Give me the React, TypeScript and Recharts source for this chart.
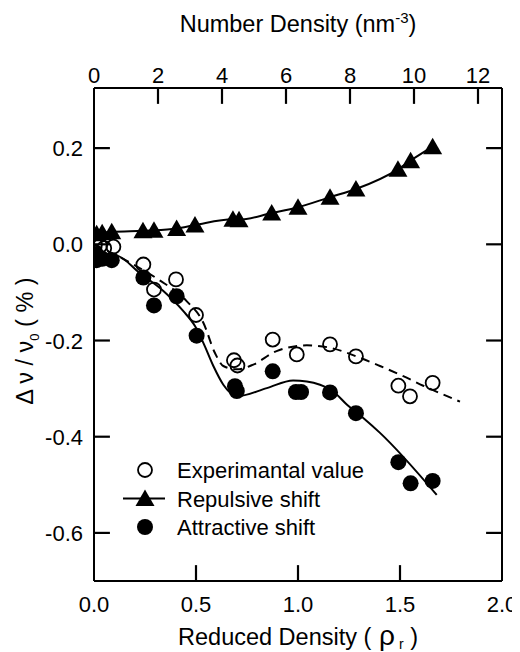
import { ComposedChart, XAxis, YAxis, Scatter, Line, ReferenceLine } from 'recharts'

const FONT = '"Liberation Sans", Arial, Helvetica, sans-serif'

// axis ticks
const reducedTicks = [0, 0.5, 1, 1.5, 2]
const numberTicks = [0, 2, 4, 6, 8, 10, 12]
const shiftTicks = [-0.6, -0.4, -0.2, 0, 0.2]

// Experimantal value (open circles)
const experimental = [
  { x: 0.005, y: 0.0 },
  { x: 0.03, y: -0.003 },
  { x: 0.05, y: -0.008 },
  { x: 0.095, y: -0.005 },
  { x: 0.242, y: -0.042 },
  { x: 0.294, y: -0.094 },
  { x: 0.402, y: -0.073 },
  { x: 0.5, y: -0.147 },
  { x: 0.686, y: -0.241 },
  { x: 0.703, y: -0.252 },
  { x: 0.876, y: -0.198 },
  { x: 0.994, y: -0.229 },
  { x: 1.157, y: -0.208 },
  { x: 1.284, y: -0.233 },
  { x: 1.492, y: -0.294 },
  { x: 1.549, y: -0.316 },
  { x: 1.66, y: -0.288 },
]

// Repulsive shift (triangles + line)
const repulsive = [
  { x: 0.013, y: 0.022 },
  { x: 0.04, y: 0.024 },
  { x: 0.087, y: 0.026 },
  { x: 0.24, y: 0.028 },
  { x: 0.294, y: 0.029 },
  { x: 0.405, y: 0.033 },
  { x: 0.495, y: 0.04 },
  { x: 0.681, y: 0.052 },
  { x: 0.711, y: 0.051 },
  { x: 0.871, y: 0.065 },
  { x: 1.0, y: 0.077 },
  { x: 1.157, y: 0.098 },
  { x: 1.284, y: 0.115 },
  { x: 1.49, y: 0.156 },
  { x: 1.552, y: 0.174 },
  { x: 1.66, y: 0.203 },
]

// Attractive shift (filled circles)
const attractive = [
  { x: 0.01, y: -0.02 },
  { x: 0.013, y: -0.033 },
  { x: 0.04, y: -0.03 },
  { x: 0.087, y: -0.033 },
  { x: 0.242, y: -0.069 },
  { x: 0.294, y: -0.127 },
  { x: 0.405, y: -0.108 },
  { x: 0.503, y: -0.19 },
  { x: 0.691, y: -0.295 },
  { x: 0.7, y: -0.305 },
  { x: 0.876, y: -0.264 },
  { x: 0.99, y: -0.307 },
  { x: 1.015, y: -0.307 },
  { x: 1.157, y: -0.308 },
  { x: 1.284, y: -0.351 },
  { x: 1.492, y: -0.453 },
  { x: 1.552, y: -0.497 },
  { x: 1.66, y: -0.492 },
]

// dashed fit through the experimental values
const experimentalFit = [
  { x: 0.0, y: 0.0 },
  { x: 0.176, y: -0.038 },
  { x: 0.315, y: -0.073 },
  { x: 0.454, y: -0.118 },
  { x: 0.536, y: -0.163 },
  { x: 0.593, y: -0.226 },
  { x: 0.634, y: -0.253 },
  { x: 0.7, y: -0.26 },
  { x: 0.781, y: -0.25 },
  { x: 0.895, y: -0.222 },
  { x: 1.043, y: -0.21 },
  { x: 1.157, y: -0.215 },
  { x: 1.304, y: -0.236 },
  { x: 1.402, y: -0.253 },
  { x: 1.516, y: -0.274 },
  { x: 1.614, y: -0.294 },
  { x: 1.794, y: -0.327 },
]

// solid fit through the attractive shift
const attractiveFit = [
  { x: 0.0, y: -0.018 },
  { x: 0.111, y: -0.023 },
  { x: 0.225, y: -0.06 },
  { x: 0.34, y: -0.097 },
  { x: 0.438, y: -0.139 },
  { x: 0.495, y: -0.17 },
  { x: 0.536, y: -0.205 },
  { x: 0.585, y: -0.253 },
  { x: 0.634, y: -0.292 },
  { x: 0.7, y: -0.316 },
  { x: 0.847, y: -0.299 },
  { x: 0.976, y: -0.283 },
  { x: 1.043, y: -0.285 },
  { x: 1.108, y: -0.292 },
  { x: 1.173, y: -0.306 },
  { x: 1.239, y: -0.333 },
  { x: 1.32, y: -0.361 },
  { x: 1.402, y: -0.392 },
  { x: 1.68, y: -0.521 },
]

const X_MIN = 0
const X_MAX = 2
const Y_MIN = -0.7
const Y_MAX = 0.325
// inward tick length, in data units (about 16px)
const TICK_DX = 0.078
const TICK_DY = 0.033

const axisLine = { stroke: '#000', strokeWidth: 2 }
const TICK_FONT = 22

// tick labels only; the inward marks are reference segments below
const makeTick = (side: 'top' | 'bottom' | 'left', fmt: (v: number) => string) =>
  (props: any) => {
    const x = Number(props.x)
    const y = Number(props.y)
    let tx = x
    let ty = y
    let anchor: 'middle' | 'end' = 'middle'
    if (side === 'bottom') ty = y + 31
    if (side === 'top') ty = y - 5
    if (side === 'left') { tx = x - 11; ty = y + 8; anchor = 'end' }
    return (
      <text x={tx} y={ty} textAnchor={anchor} fontSize={TICK_FONT} fontFamily={FONT} fill="#000">
        {fmt(props.payload.value)}
      </text>
    )
  }

const OpenCircle = (props: any) => (
  <circle cx={props.cx} cy={props.cy} r={7} fill="none" stroke="#000" strokeWidth={1.8} />
)

const FilledCircle = (props: any) => (
  <circle cx={props.cx} cy={props.cy} r={8} fill="#000" />
)

const Triangle = (props: any) => {
  const { cx, cy } = props
  if (cx == null || cy == null) return null
  return (
    <polygon
      points={`${cx},${cy - 9} ${cx - 9.5},${cy + 7.5} ${cx + 9.5},${cy + 7.5}`}
      fill="#000"
    />
  )
}

const TopTitle = () => (
  <text x={290} y={24} textAnchor="middle" fontSize={23.5} fontFamily={FONT} fill="#000">
    Number Density (nm
    <tspan dy={-9} fontSize={15}>-3</tspan>
    <tspan dy={9}>)</tspan>
  </text>
)

const BottomTitle = () => (
  <text x={290} y={637} textAnchor="middle" fontSize={23.5} fontFamily={FONT} fill="#000">
    Reduced Density (
    <tspan fontSize={28}> ρ</tspan>
    <tspan dy={4} fontSize={14}> r</tspan>
    <tspan dy={-4}> )</tspan>
  </text>
)

const LeftTitle = () => (
  <text
    x={25}
    y={333}
    transform="rotate(-90, 25, 333)"
    textAnchor="middle"
    fontSize={23.5}
    fontFamily={FONT}
    fill="#000"
  >
    Δ ν / ν
    <tspan dy={6} fontSize={13}>0</tspan>
    <tspan dy={-6}> ( % )</tspan>
  </text>
)

const legendRows = [
  { name: 'Experimantal value', kind: 'open' },
  { name: 'Repulsive shift', kind: 'triangle' },
  { name: 'Attractive shift', kind: 'filled' },
]

const ChartLegend = () => (
  <svg width={260} height={100} style={{ position: 'absolute', left: 107, top: 442 }}>
    {legendRows.map((row, i) => {
      const cy = 20 + i * 28.5
      return (
        <g key={row.name}>
          {row.kind === 'open' && <OpenCircle cx={30} cy={cy} />}
          {row.kind === 'triangle' && (
            <>
              <line x1={8} x2={50} y1={cy} y2={cy} stroke="#000" strokeWidth={2} />
              <Triangle cx={30} cy={cy} />
            </>
          )}
          {row.kind === 'filled' && <FilledCircle cx={30} cy={cy} />}
          <text x={62} y={cy + 8} fontSize={22} fontFamily={FONT} fill="#000">
            {row.name}
          </text>
        </g>
      )
    })}
  </svg>
)

const fmt1 = (v: number) => v.toFixed(1)
const fmt0 = (v: number) => String(v)

const tickMark = { stroke: '#000', strokeWidth: 2.2, ifOverflow: 'visible' as const }

export default function App() {
  return (
    <div style={{ position: 'relative', width: 512, height: 644 }}>
      <ComposedChart
        width={512}
        height={644}
        margin={{ top: 40, right: 10, bottom: 31, left: 20 }}
      >
        <XAxis
          xAxisId="bottom"
          type="number"
          dataKey="x"
          orientation="bottom"
          domain={[X_MIN, X_MAX]}
          ticks={reducedTicks}
          allowDataOverflow
          height={40}
          tickSize={0}
          tickMargin={0}
          axisLine={axisLine}
          tickLine={false}
          tick={makeTick('bottom', fmt1)}
          label={<BottomTitle />}
        />
        <XAxis
          xAxisId="top"
          type="number"
          dataKey="x"
          orientation="top"
          domain={[0, 12.75]}
          ticks={numberTicks}
          allowDataOverflow
          height={40}
          tickSize={0}
          tickMargin={0}
          axisLine={axisLine}
          tickLine={false}
          tick={makeTick('top', fmt0)}
          label={<TopTitle />}
        />
        <YAxis
          yAxisId="left"
          type="number"
          dataKey="y"
          domain={[Y_MIN, Y_MAX]}
          ticks={shiftTicks}
          allowDataOverflow
          width={66}
          tickSize={0}
          tickMargin={0}
          axisLine={axisLine}
          tickLine={false}
          tick={makeTick('left', fmt1)}
          label={<LeftTitle />}
        />
        <YAxis
          yAxisId="right"
          type="number"
          orientation="right"
          domain={[Y_MIN, Y_MAX]}
          ticks={shiftTicks}
          allowDataOverflow
          width={8}
          tickSize={0}
          tickMargin={0}
          axisLine={axisLine}
          tickLine={false}
          tick={false}
        />
        {reducedTicks.slice(1, -1).map((t) => (
          <ReferenceLine
            key={`b${t}`}
            xAxisId="bottom"
            yAxisId="left"
            segment={[{ x: t, y: Y_MIN }, { x: t, y: Y_MIN + TICK_DY }]}
            {...tickMark}
          />
        ))}
        {numberTicks.slice(1).map((t) => (
          <ReferenceLine
            key={`t${t}`}
            xAxisId="top"
            yAxisId="left"
            segment={[{ x: t, y: Y_MAX }, { x: t, y: Y_MAX - TICK_DY }]}
            {...tickMark}
          />
        ))}
        {shiftTicks.map((t) => (
          <ReferenceLine
            key={`l${t}`}
            xAxisId="bottom"
            yAxisId="left"
            segment={[{ x: X_MIN, y: t }, { x: X_MIN + TICK_DX, y: t }]}
            {...tickMark}
          />
        ))}
        {shiftTicks.map((t) => (
          <ReferenceLine
            key={`r${t}`}
            xAxisId="bottom"
            yAxisId="left"
            segment={[{ x: X_MAX - TICK_DX, y: t }, { x: X_MAX, y: t }]}
            {...tickMark}
          />
        ))}
        <Line
          xAxisId="bottom"
          yAxisId="left"
          data={experimentalFit}
          dataKey="y"
          type="monotone"
          stroke="#000"
          strokeWidth={2}
          strokeDasharray="9 6"
          dot={false}
          isAnimationActive={false}
        />
        <Line
          xAxisId="bottom"
          yAxisId="left"
          data={attractiveFit}
          dataKey="y"
          type="monotone"
          stroke="#000"
          strokeWidth={2}
          dot={false}
          isAnimationActive={false}
        />
        <Line
          xAxisId="bottom"
          yAxisId="left"
          data={repulsive}
          dataKey="y"
          name="Repulsive shift"
          type="monotone"
          stroke="#000"
          strokeWidth={2}
          dot={<Triangle />}
          isAnimationActive={false}
        />
        <Scatter
          xAxisId="bottom"
          yAxisId="left"
          data={experimental}
          dataKey="y"
          name="Experimantal value"
          shape={<OpenCircle />}
          isAnimationActive={false}
        />
        <Scatter
          xAxisId="bottom"
          yAxisId="left"
          data={attractive}
          dataKey="y"
          name="Attractive shift"
          shape={<FilledCircle />}
          isAnimationActive={false}
        />
      </ComposedChart>
      <ChartLegend />
    </div>
  )
}
